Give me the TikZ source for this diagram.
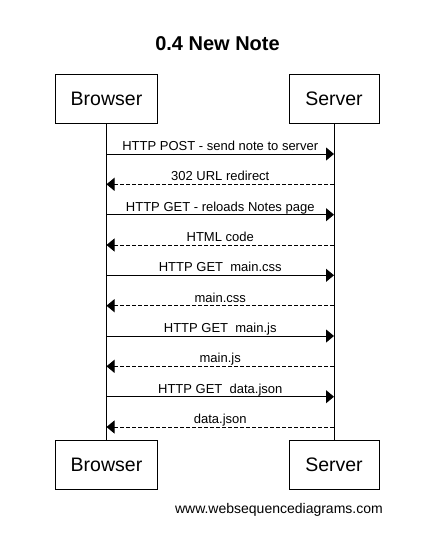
\documentclass[tikz,border=0pt]{standalone}
\usepackage{fontspec}
\setmainfont{Liberation Sans}
\usetikzlibrary{arrows.meta}
\begin{document}
\begin{tikzpicture}[x=1pt,y=-1pt,
  actor/.style={draw,line width=1pt,minimum height=49pt,inner sep=0pt,font=\fontsize{19.5}{22}\selectfont},
  msg/.style={line width=1pt,-{Triangle[length=8pt,width=13pt]}},
  reply/.style={msg,dash pattern=on 4pt off 2pt},
  lbl/.style={anchor=base,yshift=3.5pt,inner sep=0pt,font=\fontsize{13}{15}\selectfont},
  lifeline/.style={line width=1pt}]
\useasboundingbox[fill=white] (0,0) rectangle (445,539);
\node[font=\bfseries\fontsize{20}{24}\selectfont] (title) at (217.5,43.5) {0.4 New Note};
\node[actor,minimum width=102pt] (bt) at (106.5,98.5) {Browser};
\node[actor,minimum width=90pt] (st) at (334,98.5) {Server};
\node[actor,minimum width=102pt] (bb) at (106.5,465) {Browser};
\node[actor,minimum width=90pt] (sb) at (334,465) {Server};
\draw[lifeline] (bt.south) -- (bb.north);
\draw[lifeline] (st.south) -- (sb.north);
\foreach \i/\y in {1/154,2/184.3,3/214.7,4/245,5/275.3,6/305.7,7/336,8/366.3,9/396.7,10/427}{
  \coordinate (b\i) at (bt.south |- 0,\y);
  \coordinate (s\i) at (st.south |- 0,\y);
}
\draw[msg] (b1) -- node[lbl] {HTTP POST - send note to server} (s1);
\draw[reply] (s2) -- node[lbl] {302 URL redirect} (b2);
\draw[msg] (b3) -- node[lbl] {HTTP GET - reloads Notes page} (s3);
\draw[reply] (s4) -- node[lbl] {HTML code} (b4);
\draw[msg] (b5) -- node[lbl] {HTTP GET~ main.css} (s5);
\draw[reply] (s6) -- node[lbl] {main.css} (b6);
\draw[msg] (b7) -- node[lbl] {HTTP GET~ main.js} (s7);
\draw[reply] (s8) -- node[lbl] {main.js} (b8);
\draw[msg] (b9) -- node[lbl] {HTTP GET~ data.json} (s9);
\draw[reply] (s10) -- node[lbl] {data.json} (b10);
\node[anchor=base east,inner sep=0pt,font=\fontsize{14}{16}\selectfont] (web) at (383,513) {www.websequencediagrams.com};
\end{tikzpicture}
\end{document}
